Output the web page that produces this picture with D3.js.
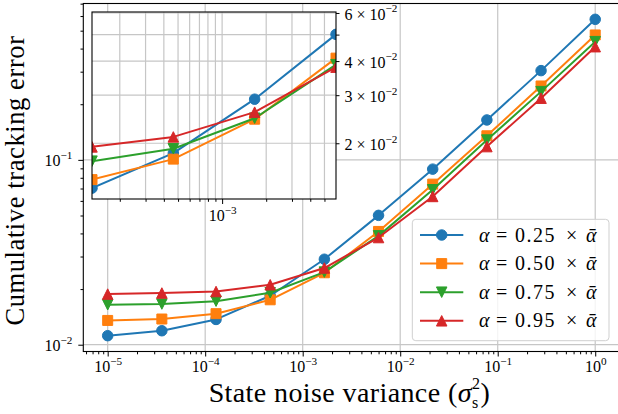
<!DOCTYPE html>
<html><head><meta charset="utf-8">
<script src="https://cdn.jsdelivr.net/npm/d3@7"></script>
<style>
body{margin:0;background:#fff}
svg{display:block}
text{font-family:"Liberation Serif","Times New Roman",serif;fill:#000}
</style>
</head><body>
<svg id="c" width="618" height="414"></svg>
<script>
// ---------------- data ----------------
const noiseVar = [1e-5, 3.594e-5, 1.292e-4, 4.642e-4, 1.668e-3, 5.995e-3, 2.154e-2, 7.743e-2, 0.2783, 1.0];
const alphaLabels = ["0.25", "0.50", "0.75", "0.95"];
const errA025 = [0.01119, 0.0119, 0.0137, 0.0184, 0.0290, 0.0501, 0.0891, 0.1644, 0.304, 0.576];
const errA050 = [0.01353, 0.01377, 0.01472, 0.0175, 0.0245, 0.0410, 0.0739, 0.135, 0.251, 0.474];
const errA075 = [0.01645, 0.0166, 0.0172, 0.0191, 0.0247, 0.0388, 0.0689, 0.128, 0.234, 0.436];
const errA095 = [0.01879, 0.01904, 0.0194, 0.0211, 0.0260, 0.0380, 0.0634, 0.118, 0.2156, 0.4096];
const xTickExps = [-5, -4, -3, -2, -1, 0];
const yTickExps = [-2, -1];
const insetXTickExps = [-3];
const insetYTicks = [0.02, 0.03, 0.04, 0.06];
const insetYTickLabels = ["2", "3", "4", "6"];
const insetRange = [2, 5]; // indices of noiseVar shown in the inset
const insetYLim = [0.0125, 0.0605];

const series = [errA025, errA050, errA075, errA095];
const colors = ["#1f77b4", "#ff7f0e", "#2ca02c", "#d62728"];
const markerTypes = ["circle", "square", "tdown", "tup"];

// ---------------- layout ----------------
const svg = d3.select("#c");
const M = {l: 83.3, r: 619.6, t: 3.5, b: 351.5};
const I = {l: 92, r: 336, t: 12, b: 199};
const gridCol = "#c6c6c6";

const x = d3.scaleLog().domain([10 ** -5.25, 10 ** 0.25]).range([M.l, M.r]);
const allV = series.flat();
const lmin = Math.log10(d3.min(allV)), lmax = Math.log10(d3.max(allV));
const pad = (lmax - lmin) * 0.05;
const y = d3.scaleLog().domain([10 ** (lmin - pad), 10 ** (lmax + pad)]).range([M.b, M.t]);

const xi = d3.scaleLog().domain([noiseVar[insetRange[0]], noiseVar[insetRange[1]]]).range([I.l, I.r]);
const yi = d3.scaleLog().domain(insetYLim).range([I.b, I.t]);

function minorTicks(scale, loExp, hiExp) {
  const [d0, d1] = scale.domain();
  const out = [];
  for (let e = loExp; e <= hiExp; e++) for (let m = 2; m <= 9; m++) {
    const v = m * 10 ** e;
    if (v >= Math.min(d0, d1) * 0.9999 && v <= Math.max(d0, d1) * 1.0001) out.push(v);
  }
  return out;
}

function markerPath(type, s) {
  const h = s / 2;
  if (type === "square") return `M${-h},${-h}H${h}V${h}H${-h}Z`;
  if (type === "tup") return `M0,${-h}L${h},${h}L${-h},${h}Z`;
  if (type === "tdown") return `M0,${h}L${h},${-h}L${-h},${-h}Z`;
  return d3.symbol(d3.symbolCircle, Math.PI * h * h)();
}

function powLabel(sel, base, exp, fs) {
  sel.text(null);
  sel.append("tspan").text(base);
  sel.append("tspan").attr("dy", -fs * 0.45).attr("font-size", fs * 0.7).text(exp);
}

// ---------------- main grid ----------------
const gMain = svg.append("g");
gMain.append("g").selectAll("line").data(xTickExps).join("line")
  .attr("x1", d => x(10 ** d)).attr("x2", d => x(10 ** d))
  .attr("y1", M.t).attr("y2", M.b).attr("stroke", gridCol).attr("stroke-width", 1.2);
gMain.append("g").selectAll("line").data(yTickExps).join("line")
  .attr("y1", d => y(10 ** d)).attr("y2", d => y(10 ** d))
  .attr("x1", M.l).attr("x2", M.r).attr("stroke", gridCol).attr("stroke-width", 1.2);

// ---------------- main data ----------------
function drawSeries(g, xs, ys, idxs) {
  series.forEach((s, k) => {
    const pts = idxs.map(i => [xs(noiseVar[i]), ys(s[i])]);
    g.append("path").attr("d", d3.line()(pts)).attr("fill", "none")
      .attr("stroke", colors[k]).attr("stroke-width", 2).attr("stroke-linejoin", "round");
    g.append("g").selectAll("path").data(pts).join("path")
      .attr("transform", p => `translate(${p[0]},${p[1]})`)
      .attr("d", markerPath(markerTypes[k], markerTypes[k] === "square" ? 10 : 10.5))
      .attr("fill", colors[k]).attr("stroke", colors[k]).attr("stroke-width", 1);
  });
}
drawSeries(svg.append("g"), x, y, d3.range(noiseVar.length));

// ---------------- main axes ----------------
const fsTick = 16;
const xAxis = svg.append("g").attr("transform", `translate(0,${M.b})`)
  .call(d3.axisBottom(x).tickValues(xTickExps.map(e => 10 ** e)).tickSize(5).tickPadding(9).tickFormat(""));
xAxis.selectAll(".tick text").each(function(d, i) {
  const t = d3.select(this).attr("font-size", fsTick).attr("dy", "0.42em");
  powLabel(t, "10", xTickExps[i] === 0 ? "0" : "\u2212" + Math.abs(xTickExps[i]), fsTick);
});
svg.append("g").attr("transform", `translate(0,${M.b})`)
  .call(d3.axisBottom(x).tickValues(minorTicks(x, -6, 0)).tickSize(2.8).tickFormat(""));

const yAxis = svg.append("g").attr("transform", `translate(${M.l},0)`)
  .call(d3.axisLeft(y).tickValues(yTickExps.map(e => 10 ** e)).tickSize(5).tickPadding(6).tickFormat(""));
yAxis.selectAll(".tick text").each(function(d, i) {
  const t = d3.select(this).attr("font-size", fsTick).attr("dy", "0.38em");
  powLabel(t, "10", "\u2212" + Math.abs(yTickExps[i]), fsTick);
});
svg.append("g").attr("transform", `translate(${M.l},0)`)
  .call(d3.axisLeft(y).tickValues(minorTicks(y, -3, 0)).tickSize(2.8).tickFormat(""));
svg.selectAll(".domain").remove();
svg.selectAll(".tick line").attr("stroke", "#000").attr("stroke-width", 1);

svg.append("rect").attr("x", M.l).attr("y", M.t).attr("width", M.r - M.l).attr("height", M.b - M.t)
  .attr("fill", "none").attr("stroke", "#000").attr("stroke-width", 1.1);

// axis labels
const fsLab = 28, fsScript = 16;
const xl = svg.append("text").attr("x", (M.l + M.r) / 2 - 2).attr("y", 402)
  .attr("text-anchor", "middle").attr("font-size", fsLab).attr("letter-spacing", 0.4);
xl.append("tspan").text("State noise variance (");
xl.append("tspan").attr("font-style", "italic").text("\u03c3");
xl.append("tspan").attr("font-size", fsScript).attr("dy", -13).text("2");
xl.append("tspan").attr("font-size", fsScript).attr("dy", 18.5).attr("dx", -8.4).text("s");
xl.append("tspan").attr("dy", -5.5).attr("dx", 2).text(")");

svg.append("text").attr("transform", `translate(24,${(M.t + M.b) / 2 + 3}) rotate(-90)`)
  .attr("text-anchor", "middle").attr("font-size", 26.5).attr("letter-spacing", 0.6)
  .text("Cumulative tracking error");

// ---------------- legend ----------------
const lg = svg.append("g");
lg.append("rect").attr("x", 412.3).attr("y", 219.3).attr("width", 196.7).attr("height", 121.4)
  .attr("rx", 3.5).attr("fill", "#fff").attr("fill-opacity", 0.8).attr("stroke", "#cfcfcf").attr("stroke-width", 1);
const fsLeg = 20;
alphaLabels.forEach((lab, k) => {
  const yy = 235 + k * 28.6;
  lg.append("line").attr("x1", 420).attr("x2", 463.3).attr("y1", yy).attr("y2", yy)
    .attr("stroke", colors[k]).attr("stroke-width", 2);
  lg.append("path").attr("transform", `translate(441.7,${yy})`)
    .attr("d", markerPath(markerTypes[k], markerTypes[k] === "square" ? 10 : 10.5))
    .attr("fill", colors[k]).attr("stroke", colors[k]);
  const t = lg.append("text").attr("y", yy + 6.5).attr("font-size", fsLeg);
  t.append("tspan").attr("x", 479).attr("font-style", "italic").text("\u03b1");
  t.append("tspan").attr("x", 496).text("=");
  t.append("tspan").attr("x", 515).attr("letter-spacing", 1.5).text(lab);
  t.append("tspan").attr("x", 566).text("\u00d7");
  t.append("tspan").attr("x", 586).attr("font-style", "italic").text("\u1fb1");
});

// ---------------- inset ----------------
const ins = svg.append("g");
ins.append("rect").attr("x", I.l).attr("y", I.t).attr("width", I.r - I.l).attr("height", I.b - I.t)
  .attr("fill", "#fff");
const xiMin = minorTicks(xi, -4, -3);
const xiAll = xiMin.concat(insetXTickExps.map(e => 10 ** e));
ins.append("g").selectAll("line").data(xiAll).join("line")
  .attr("x1", d => xi(d)).attr("x2", d => xi(d)).attr("y1", I.t).attr("y2", I.b)
  .attr("stroke", gridCol).attr("stroke-width", 1.2);
const yiMin = minorTicks(yi, -2, -2);
ins.append("g").selectAll("line").data(yiMin).join("line")
  .attr("y1", d => yi(d)).attr("y2", d => yi(d)).attr("x1", I.l).attr("x2", I.r)
  .attr("stroke", gridCol).attr("stroke-width", 1.2);

svg.append("clipPath").attr("id", "clipI").append("rect")
  .attr("x", I.l).attr("y", I.t).attr("width", I.r - I.l).attr("height", I.b - I.t);
drawSeries(ins.append("g").attr("clip-path", "url(#clipI)"), xi, yi, d3.range(insetRange[0], insetRange[1] + 1));

const ixAx = ins.append("g").attr("transform", `translate(0,${I.b})`)
  .call(d3.axisBottom(xi).tickValues(insetXTickExps.map(e => 10 ** e)).tickSize(5).tickPadding(9).tickFormat(""));
ixAx.selectAll(".tick text").each(function(d, i) {
  const t = d3.select(this).attr("font-size", fsTick).attr("dy", "0.5em");
  powLabel(t, "10", "\u2212" + Math.abs(insetXTickExps[i]), fsTick);
});
ins.append("g").attr("transform", `translate(0,${I.b})`)
  .call(d3.axisBottom(xi).tickValues(xiMin).tickSize(2.8).tickFormat(""));
const iyAx = ins.append("g").attr("transform", `translate(${I.r},0)`)
  .call(d3.axisRight(yi).tickValues(yiMin).tickSize(3.5).tickPadding(5).tickFormat(""));
iyAx.selectAll(".tick text").each(function(d) {
  const j = insetYTicks.findIndex(v => Math.abs(v - d) < 1e-9);
  const t = d3.select(this).attr("font-size", fsTick).attr("dy", "0.38em");
  if (j < 0) { t.text(""); return; }
  powLabel(t, insetYTickLabels[j] + " \u00d7 10", "\u22122", fsTick);
});
ins.selectAll(".domain").remove();
ins.selectAll(".tick line").attr("stroke", "#000").attr("stroke-width", 1);
ins.append("rect").attr("x", I.l).attr("y", I.t).attr("width", I.r - I.l).attr("height", I.b - I.t)
  .attr("fill", "none").attr("stroke", "#000").attr("stroke-width", 1.1);
</script>
</body></html>
